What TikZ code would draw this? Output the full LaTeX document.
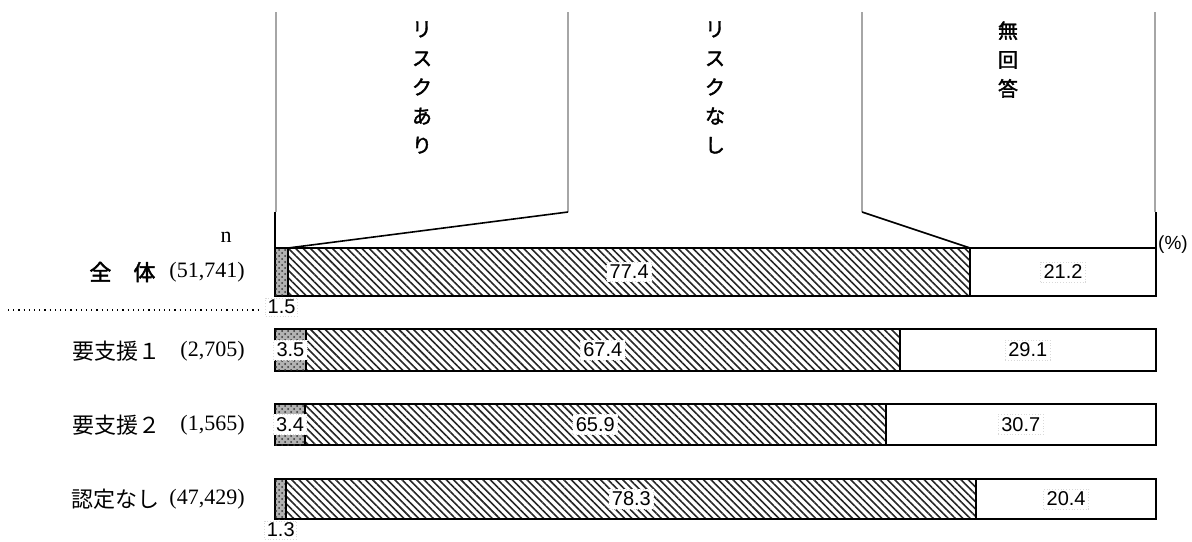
\documentclass[tikz,border=0pt]{standalone}
\usepackage{fontspec}
\setmainfont{Liberation Serif}
\newfontfamily\jpfont{Noto Sans CJK JP}
\newfontfamily\jpbold[FakeBold=2]{Noto Sans CJK JP}
\newfontfamily\numfont{Liberation Sans}
\usetikzlibrary{patterns,patterns.meta}

\begin{document}
\begin{tikzpicture}[x=0.5pt, y=-0.5pt,
    hdr/.style={anchor=north, align=center, inner sep=0pt,
        font=\jpbold\fontsize{10}{14.5}\selectfont},
    guide/.style={gray!70, line width=1pt},
    lead/.style={black, line width=0.8pt},
    riskseg/.style={draw=black, line width=1pt, fill=gray!60,
        postaction={pattern=crosshatch dots, pattern color=black!80}},
    safeseg/.style={draw=black, line width=1pt,
        pattern={Lines[angle=-45, distance=2.6pt, line width=0.8pt]}, pattern color=black!85},
    noansseg/.style={draw=black, line width=1pt, fill=white},
    val/.style={fill=white, draw=gray!30, densely dotted, inner sep=1.5pt,
        font=\numfont\fontsize{10}{11}\selectfont},
    rowname/.style={anchor=west, inner sep=0pt, font=\jpfont\fontsize{11}{12}\selectfont},
    rown/.style={anchor=east, inner sep=0pt, font=\fontsize{11}{12}\selectfont}]
    \useasboundingbox (0,0) rectangle (1192,541);

    % Headers
    \node[hdr] (hAri) at (422,21) {リ\\ス\\ク\\あ\\り};
    \node[hdr] (hNashi) at (715,21) {リ\\ス\\ク\\な\\し};
    \node[hdr] (hMu) at (1008,21) {無\\回\\答};

    % Guide lines above the bars
    \coordinate (g0t) at (276,12);  \coordinate (g0b) at (276,212);
    \coordinate (g1t) at (568,12);  \coordinate (g1b) at (568,212);
    \coordinate (g2t) at (862,12);  \coordinate (g2b) at (862,212);
    \coordinate (g3t) at (1155,12); \coordinate (g3b) at (1155,212);
    \foreach \g in {0,...,3}
        \draw[guide] (g\g t) -- (g\g b);
    \coordinate (k0) at (275,212);  \coordinate (b0) at (275,248);
    \coordinate (b1) at (288,248);  \coordinate (b2) at (970,248);
    \coordinate (k3) at (1156,212); \coordinate (b3) at (1156,248);
    \draw[lead] (k0) -- (b0);
    \draw[lead] (g1b) -- (b1);
    \draw[lead] (g2b) -- (b2);
    \draw[lead] (k3) -- (b3);

    % Bars
    \foreach \name/\ytop/\ybot/\pa/\pb/\pc/\inside in {
        all/248/296/1.5/77.4/21.2/0,
        sa/329/371/3.5/67.4/29.1/1,
        sb/404/445/3.4/65.9/30.7/1,
        no/479/519/1.3/78.3/20.4/0} {
        \pgfmathsetmacro\xa{275+8.81*\pa}
        \pgfmathsetmacro\xb{\xa+8.81*\pb}
        \pgfmathsetmacro\ym{(\ytop+\ybot)/2}
        \draw[riskseg] (275,\ytop) rectangle (\xa,\ybot);
        \draw[safeseg] (\xa,\ytop) rectangle (\xb,\ybot);
        \draw[noansseg] (\xb,\ytop) rectangle (1156,\ybot);
        \ifnum\inside=1
            \node[val] (\name-a) at ({(275+\xa)/2},\ym) {\pa};
        \else
            \node[val, inner sep=1pt] (\name-a) at ({(275+\xa)/2},\ybot+11) {\pa};
        \fi
        \node[val] (\name-b) at ({(\xa+\xb)/2},\ym) {\pb};
        \node[val] (\name-c) at ({(\xb+1156)/2},\ym) {\pc};
    }

    % Row labels
    \node[rown] (nhead) at (232,237) {n};
    \node[anchor=west, inner sep=0pt, font=\jpbold\fontsize{11}{12}\selectfont] (allname) at (89,272) {全\hspace{1em}体};
    \node[rown] (alln) at (245,272) {(51,741)};
    \node[rowname] (saname) at (72,351) {要支援１};
    \node[rown] (san) at (245,351) {(2,705)};
    \node[rowname] (sbname) at (72,425) {要支援２};
    \node[rown] (sbn) at (245,425) {(1,565)};
    \node[rowname] (noname) at (71,499) {認定なし};
    \node[rown] (non) at (245,499) {(47,429)};
    \coordinate (sepl) at (8,310);
    \coordinate (sepr) at (262,310);
    \draw[dotted, line width=0.6pt] (sepl) -- (sepr);

    % Unit
    \node[font=\numfont\fontsize{9.5}{10}\selectfont] (unit) at (1173,245) {(\%)};
\end{tikzpicture}
\end{document}
